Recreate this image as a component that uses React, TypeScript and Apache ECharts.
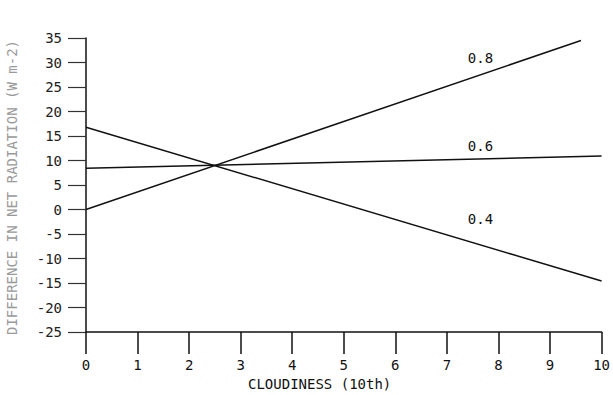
import React, { useEffect, useRef } from "react";
import * as echarts from "echarts";

const seriesNames = ["0.8", "0.6", "0.4"];
const series08 = [[0, 0], [9.6, 34.5]];
const series06 = [[0, 8.4], [10, 10.9]];
const series04 = [[0, 16.8], [10, -14.6]];
const labelX = [7.65, 7.65, 7.65];
const labelY = [30.9, 13.0, -1.9];
const xTitle = "CLOUDINESS (10th)";
const yTitle = "DIFFERENCE IN NET RADIATION (W m-2)";

const FONT = "'DejaVu Sans Mono', monospace";

export default function App() {
  const ref = useRef<HTMLDivElement>(null);
  useEffect(() => {
    if (!ref.current) return;
    const chart = echarts.init(ref.current, null, { renderer: "svg" });
    const datas = [series08, series06, series04];
    chart.setOption({
      animation: false,
      backgroundColor: "#ffffff",
      grid: { left: 86, right: 7, top: 38, bottom: 63, containLabel: false },
      xAxis: {
        type: "value",
        min: 0,
        max: 10,
        interval: 1,
        splitLine: { show: false },
        axisLine: { show: true, onZero: false, lineStyle: { color: "#111", width: 1.5 } },
        axisTick: { show: true, inside: false, length: 22, lineStyle: { color: "#111", width: 1.5 } },
        axisLabel: {
          margin: 26,
          color: "#111",
          fontFamily: FONT,
          fontSize: 14,
        },
      },
      yAxis: {
        type: "value",
        min: -25,
        max: 35,
        interval: 5,
        splitLine: { show: false },
        axisLine: { show: true, onZero: false, lineStyle: { color: "#111", width: 1.5 } },
        axisTick: { show: true, inside: false, length: 18, lineStyle: { color: "#333", width: 1.2 } },
        axisLabel: {
          margin: 24,
          color: "#222",
          fontFamily: FONT,
          fontSize: 14,
        },
      },
      series: seriesNames.map((name, i) => ({
        name,
        type: "line",
        data: datas[i],
        showSymbol: false,
        symbol: "none",
        lineStyle: { color: "#111", width: 1.5 },
        markPoint: {
          symbol: "circle",
          symbolSize: 0,
          data: [{ coord: [labelX[i], labelY[i]], value: name }],
          label: {
            show: true,
            position: "inside",
            formatter: name,
            color: "#111",
            fontFamily: FONT,
            fontSize: 14,
          },
        },
      })),
      graphic: [
        {
          type: "text",
          left: 320 - 72,
          top: 377,
          style: {
            text: xTitle,
            fill: "#111",
            font: `14px ${FONT}`,
          },
        },
        {
          type: "text",
          x: 5,
          y: 335,
          rotation: Math.PI / 2,
          style: {
            text: yTitle,
            fill: "#9a9a9a",
            font: `14px ${FONT}`,
            textAlign: "left",
            textVerticalAlign: "top",
          },
        },
      ],
    });
    return () => chart.dispose();
  }, []);
  return <div ref={ref} style={{ width: 613, height: 395, position: "absolute", left: 0, top: 0 }} />;
}
